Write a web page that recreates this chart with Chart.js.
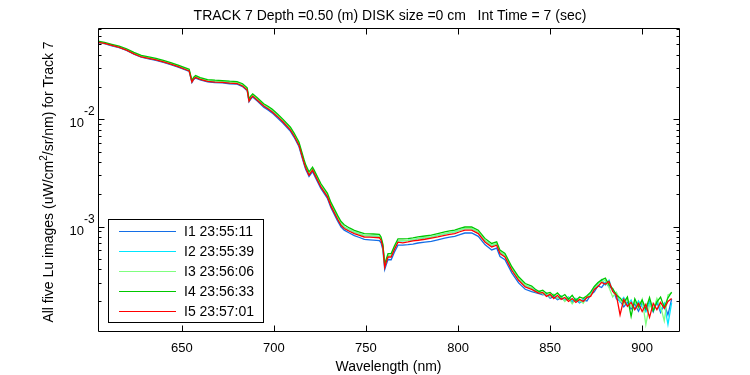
<!DOCTYPE html>
<html><head><meta charset="utf-8">
<script src="https://cdn.jsdelivr.net/npm/chart.js@4/dist/chart.umd.min.js"></script>
<style>html,body{margin:0;padding:0;background:#fff}canvas{display:block}</style>
</head><body>
<canvas id="c" width="750" height="375"></canvas>
<script>
const wavelengths = [
604.5,608,612,616,620,624,628,632,636,640,644,648,652,654,655.5,656.5,657.5,660,664,668,
672,676,680,683,685.5,686.5,687.5,688.5,691,694.5,697,699,
702,705,709,711,713.6,716.4,717.3,719.1,721,721.8,725.5,729.1,731,734.6,736.4,738.2,741,743.7,746.5,749.1,
752,754,757.3,758.2,759.2,760.2,761,762,763.7,765.5,767.4,770,772.8,775.5,778.3,782,785.5,789,792.8,795.5,
798.2,801,803.7,807.4,811,814.6,818.3,821,822.8,825.5,829.2,832.9,836.5,840,
842,844,846,848,850,852,854,856,858,860,862,864,866,868,870,872,874,876,878,880,
882,884,886,888,890,892,894,896,898,900,902,904,906,908,910,912,914,916
];
const i1 = [
5.20e-2,5.08e-2,4.85e-2,4.66e-2,4.40e-2,4.05e-2,3.80e-2,3.66e-2,3.56e-2,3.40e-2,3.24e-2,3.07e-2,2.89e-2,2.80e-2,2.21e-2,2.36e-2,2.43e-2,2.33e-2,2.24e-2,2.20e-2,
2.19e-2,2.15e-2,2.13e-2,2.02e-2,1.85e-2,1.46e-2,1.55e-2,1.62e-2,1.48e-2,1.30e-2,1.22e-2,1.15e-2,
1.03e-2,9.20e-3,7.72e-3,6.80e-3,5.58e-3,3.80e-3,3.41e-3,2.93e-3,3.25e-3,3.05e-3,2.27e-3,1.83e-3,1.50e-3,1.13e-3,9.95e-4,9.25e-4,8.70e-4,8.22e-4,7.90e-4,7.58e-4,
7.52e-4,7.48e-4,7.40e-4,7.05e-4,6.05e-4,3.98e-4,4.40e-4,4.92e-4,4.90e-4,5.78e-4,6.70e-4,6.72e-4,6.78e-4,6.86e-4,7.02e-4,7.15e-4,7.28e-4,7.52e-4,7.80e-4,7.96e-4,
8.10e-4,8.40e-4,8.70e-4,8.72e-4,8.10e-4,6.78e-4,6.05e-4,6.30e-4,5.25e-4,4.90e-4,3.70e-4,2.98e-4,2.60e-4,2.47e-4,
2.42e-4,2.36e-4,2.30e-4,2.34e-4,2.14e-4,2.22e-4,2.08e-4,2.16e-4,2.04e-4,2.12e-4,1.96e-4,2.08e-4,1.94e-4,2.06e-4,2.02e-4,2.30e-4,2.46e-4,2.80e-4,2.70e-4,3.02e-4,
2.74e-4,2.62e-4,2.12e-4,2.02e-4,1.78e-4,1.96e-4,1.70e-4,1.90e-4,1.62e-4,1.94e-4,1.66e-4,2.00e-4,1.60e-4,1.98e-4,1.58e-4,1.90e-4,1.50e-4,2.10e-4
];
const i2 = [
5.26e-2,5.14e-2,4.93e-2,4.72e-2,4.47e-2,4.12e-2,3.86e-2,3.73e-2,3.62e-2,3.46e-2,3.30e-2,3.13e-2,2.95e-2,2.86e-2,2.26e-2,2.41e-2,2.49e-2,2.39e-2,2.29e-2,2.26e-2,
2.24e-2,2.21e-2,2.19e-2,2.08e-2,1.91e-2,1.50e-2,1.60e-2,1.68e-2,1.54e-2,1.36e-2,1.28e-2,1.21e-2,
1.08e-2,9.65e-3,8.12e-3,7.15e-3,5.90e-3,4.02e-3,3.60e-3,3.10e-3,3.44e-3,3.24e-3,2.41e-3,1.95e-3,1.60e-3,1.21e-3,1.06e-3,9.88e-4,9.30e-4,8.85e-4,8.54e-4,8.22e-4,
8.20e-4,8.18e-4,8.10e-4,7.68e-4,6.60e-4,4.30e-4,4.78e-4,5.36e-4,5.36e-4,6.32e-4,7.35e-4,7.36e-4,7.42e-4,7.52e-4,7.70e-4,7.86e-4,7.98e-4,8.26e-4,8.56e-4,8.76e-4,
8.90e-4,9.25e-4,9.55e-4,9.56e-4,8.90e-4,7.42e-4,6.66e-4,6.90e-4,5.78e-4,5.38e-4,4.04e-4,3.25e-4,2.82e-4,2.66e-4,
2.52e-4,2.44e-4,2.38e-4,2.30e-4,2.24e-4,2.30e-4,2.16e-4,2.26e-4,2.06e-4,2.20e-4,2.02e-4,2.14e-4,1.96e-4,2.10e-4,2.16e-4,2.38e-4,2.66e-4,2.90e-4,3.20e-4,2.84e-4,
3.16e-4,2.50e-4,2.36e-4,1.98e-4,2.18e-4,1.86e-4,2.06e-4,1.70e-4,2.02e-4,1.78e-4,1.60e-4,1.96e-4,1.72e-4,2.04e-4,1.64e-4,1.92e-4,1.22e-4,1.95e-4
];
const i3 = [
5.27e-2,5.15e-2,4.94e-2,4.74e-2,4.48e-2,4.13e-2,3.87e-2,3.74e-2,3.63e-2,3.47e-2,3.31e-2,3.14e-2,2.96e-2,2.87e-2,2.27e-2,2.42e-2,2.50e-2,2.40e-2,2.30e-2,2.27e-2,
2.25e-2,2.22e-2,2.20e-2,2.09e-2,1.92e-2,1.51e-2,1.61e-2,1.69e-2,1.55e-2,1.37e-2,1.29e-2,1.22e-2,
1.09e-2,9.72e-3,8.18e-3,7.20e-3,5.94e-3,4.05e-3,3.63e-3,3.12e-3,3.46e-3,3.26e-3,2.42e-3,1.96e-3,1.61e-3,1.21e-3,1.07e-3,9.90e-4,9.33e-4,8.88e-4,8.56e-4,8.25e-4,
8.22e-4,8.20e-4,8.12e-4,7.70e-4,6.62e-4,4.32e-4,4.80e-4,5.38e-4,5.38e-4,6.35e-4,7.38e-4,7.38e-4,7.44e-4,7.55e-4,7.72e-4,7.88e-4,8.00e-4,8.28e-4,8.58e-4,8.78e-4,
8.92e-4,9.28e-4,9.58e-4,9.60e-4,8.92e-4,7.45e-4,6.68e-4,6.92e-4,5.80e-4,5.40e-4,4.06e-4,3.26e-4,2.83e-4,2.67e-4,
2.46e-4,2.50e-4,2.34e-4,2.40e-4,2.20e-4,2.34e-4,2.12e-4,2.24e-4,2.00e-4,2.16e-4,1.90e-4,2.10e-4,2.04e-4,1.92e-4,2.20e-4,2.32e-4,2.60e-4,2.96e-4,3.06e-4,3.14e-4,
2.70e-4,2.20e-4,2.44e-4,2.06e-4,1.88e-4,2.12e-4,1.78e-4,2.00e-4,1.72e-4,2.10e-4,1.22e-4,1.86e-4,1.66e-4,2.14e-4,1.80e-4,1.32e-4,2.30e-4,2.40e-4
];
const i4 = [
5.36e-2,5.24e-2,5.02e-2,4.82e-2,4.56e-2,4.22e-2,3.95e-2,3.82e-2,3.70e-2,3.55e-2,3.39e-2,3.21e-2,3.03e-2,2.94e-2,2.31e-2,2.47e-2,2.56e-2,2.45e-2,2.35e-2,2.32e-2,
2.30e-2,2.27e-2,2.25e-2,2.15e-2,1.97e-2,1.55e-2,1.66e-2,1.73e-2,1.59e-2,1.40e-2,1.32e-2,1.25e-2,
1.12e-2,1.00e-2,8.45e-3,7.45e-3,6.15e-3,4.20e-3,3.76e-3,3.24e-3,3.58e-3,3.38e-3,2.52e-3,2.04e-3,1.68e-3,1.27e-3,1.12e-3,1.04e-3,9.70e-4,9.22e-4,8.88e-4,8.58e-4,
8.55e-4,8.52e-4,8.45e-4,8.00e-4,6.85e-4,4.45e-4,4.96e-4,5.58e-4,5.60e-4,6.62e-4,7.68e-4,7.66e-4,7.72e-4,7.84e-4,8.00e-4,8.16e-4,8.30e-4,8.58e-4,8.90e-4,9.10e-4,
9.24e-4,9.60e-4,9.90e-4,9.92e-4,9.25e-4,7.75e-4,6.95e-4,7.20e-4,6.02e-4,5.62e-4,4.22e-4,3.40e-4,2.94e-4,2.78e-4,
2.60e-4,2.48e-4,2.54e-4,2.38e-4,2.42e-4,2.26e-4,2.40e-4,2.20e-4,2.32e-4,2.10e-4,2.28e-4,2.04e-4,2.20e-4,2.14e-4,2.26e-4,2.44e-4,2.76e-4,3.00e-4,3.18e-4,3.30e-4,
2.86e-4,2.64e-4,2.30e-4,2.16e-4,1.96e-4,2.20e-4,1.45e-4,2.12e-4,1.78e-4,2.06e-4,1.70e-4,2.18e-4,1.64e-4,1.98e-4,2.20e-4,1.76e-4,2.16e-4,2.44e-4
];
const i5 = [
5.22e-2,5.11e-2,4.89e-2,4.69e-2,4.43e-2,4.09e-2,3.82e-2,3.70e-2,3.59e-2,3.43e-2,3.27e-2,3.10e-2,2.92e-2,2.83e-2,2.23e-2,2.38e-2,2.46e-2,2.36e-2,2.26e-2,2.23e-2,
2.21e-2,2.18e-2,2.16e-2,2.05e-2,1.88e-2,1.48e-2,1.58e-2,1.65e-2,1.51e-2,1.33e-2,1.25e-2,1.18e-2,
1.06e-2,9.44e-3,7.94e-3,6.99e-3,5.75e-3,3.91e-3,3.51e-3,3.02e-3,3.36e-3,3.15e-3,2.34e-3,1.89e-3,1.55e-3,1.17e-3,1.03e-3,9.58e-4,9.04e-4,8.60e-4,8.29e-4,7.99e-4,
7.97e-4,7.94e-4,7.86e-4,7.45e-4,6.41e-4,4.17e-4,4.64e-4,5.20e-4,5.20e-4,6.14e-4,7.14e-4,7.05e-4,7.18e-4,7.36e-4,7.45e-4,7.61e-4,7.80e-4,7.99e-4,8.29e-4,8.47e-4,
8.60e-4,8.94e-4,9.24e-4,9.24e-4,8.60e-4,7.18e-4,6.45e-4,6.69e-4,5.59e-4,5.20e-4,3.91e-4,3.15e-4,2.73e-4,2.59e-4,
2.48e-4,2.38e-4,2.43e-4,2.23e-4,2.33e-4,2.13e-4,2.28e-4,2.09e-4,2.18e-4,2.00e-4,2.13e-4,1.96e-4,2.09e-4,2.00e-4,2.18e-4,2.23e-4,2.59e-4,2.76e-4,3.01e-4,2.89e-4,
3.08e-4,2.48e-4,2.28e-4,1.50e-4,2.09e-4,1.80e-4,1.96e-4,1.68e-4,1.92e-4,1.61e-4,1.88e-4,1.42e-4,1.92e-4,1.68e-4,1.96e-4,1.72e-4,2.00e-4,2.13e-4
];
const seriesLabels = ['I1 23:55:11','I2 23:55:39','I3 23:56:06','I4 23:56:33','I5 23:57:01'];
const xTicks = [650,700,750,800,850,900];
const yMajorTicks = [1e-3,1e-2];
const titleText = 'TRACK 7 Depth =0.50 (m) DISK size =0 cm   Int Time = 7 (sec)';
const xLabel = 'Wavelength (nm)';
const yLabelParts = ['All five Lu images (uW/cm','2','/sr/nm) for Track 7'];

const series = [i1,i2,i3,i4,i5];
const colors = ['rgb(20,110,230)','rgb(0,230,255)','rgb(128,255,128)','rgb(0,200,0)','rgb(255,0,0)'];
const FAM = '"Liberation Sans", Arial, sans-serif';

const decor = {
  id:'decor',
  afterDatasetsDraw(chart){
    const {ctx, chartArea:a, scales:{x,y}} = chart;
    ctx.save();
    ctx.strokeStyle='#000'; ctx.lineWidth=1; ctx.fillStyle='#000';
    const L=Math.round(a.left)+0.5, R=Math.round(a.right)+0.5, T=Math.round(a.top)+0.5, B=Math.round(a.bottom)+0.5;
    ctx.beginPath();
    ctx.rect(L,T,R-L,B-T);
    xTicks.forEach(v=>{
      const p=Math.round(x.getPixelForValue(v))+0.5;
      ctx.moveTo(p,B); ctx.lineTo(p,B-6);
      ctx.moveTo(p,T); ctx.lineTo(p,T+6);
    });
    for(let n=-5;n<=-1;n++){
      for(let k=1;k<=9;k++){
        const v=k*Math.pow(10,n);
        if(v<y.min||v>y.max) continue;
        const p=Math.round(y.getPixelForValue(v))+0.5;
        const len = k===1?6:3;
        ctx.moveTo(L,p); ctx.lineTo(L+len,p);
        ctx.moveTo(R,p); ctx.lineTo(R-len,p);
      }
    }
    ctx.stroke();
    // y tick labels
    yMajorTicks.forEach(v=>{
      const p=y.getPixelForValue(v);
      const ex=String(Math.round(Math.log10(v)));
      ctx.font='13px '+FAM; ctx.textAlign='right'; ctx.textBaseline='alphabetic';
      ctx.fillText('10',84,p+8);
      ctx.font='12px '+FAM; ctx.textAlign='left';
      ctx.fillText(ex,84,p-4);
    });
    // title
    ctx.font='14px '+FAM; ctx.textAlign='center'; ctx.textBaseline='alphabetic';
    ctx.fillText(titleText,390,20);
    // x label
    ctx.fillText(xLabel,(a.left+a.right)/2,371);
    // y label
    ctx.save();
    ctx.translate(53,182); ctx.rotate(-Math.PI/2);
    ctx.textAlign='left';
    ctx.font='14px '+FAM;
    const w0=ctx.measureText(yLabelParts[0]).width;
    const w2=ctx.measureText(yLabelParts[2]).width;
    ctx.font='10px '+FAM;
    const w1=ctx.measureText(yLabelParts[1]).width;
    let sx=-(w0+w1+w2)/2;
    ctx.font='14px '+FAM; ctx.fillText(yLabelParts[0],sx,0); sx+=w0;
    ctx.font='10px '+FAM; ctx.fillText(yLabelParts[1],sx,-6); sx+=w1;
    ctx.font='14px '+FAM; ctx.fillText(yLabelParts[2],sx,0);
    ctx.restore();
    // legend
    ctx.fillStyle='#fff';
    ctx.fillRect(108.5,219.5,155,103);
    ctx.strokeStyle='#000';
    ctx.strokeRect(108.5,219.5,155,103);
    ctx.font='14px '+FAM; ctx.textAlign='left'; ctx.textBaseline='middle';
    seriesLabels.forEach((lab,i)=>{
      const yy=231+20*i+0.5;
      ctx.strokeStyle=colors[i]; ctx.lineWidth=1;
      ctx.beginPath(); ctx.moveTo(119,yy); ctx.lineTo(176,yy); ctx.stroke();
      ctx.fillStyle='#000';
      ctx.fillText(lab,184,yy+1);
    });
    ctx.restore();
  }
};

new Chart(document.getElementById('c'),{
  type:'line',
  data:{datasets: series.map((s,i)=>({
    label: seriesLabels[i],
    data: wavelengths.map((w,j)=>({x:w,y:s[j]})),
    borderColor: colors[i], borderWidth:1.3, pointRadius:0, tension:0, fill:false, order:5-i
  }))},
  options:{
    responsive:false, animation:false, devicePixelRatio:1,
    layout:{padding:{left:0,right:71,top:28,bottom:0}},
    plugins:{legend:{display:false},title:{display:false},tooltip:{enabled:false}},
    scales:{
      x:{type:'linear',min:604.5,max:920,
        afterBuildTicks:s=>{s.ticks=xTicks.map(v=>({value:v}));},
        ticks:{font:{family:FAM,size:13},color:'#000',padding:10,maxRotation:0,autoSkip:false},
        grid:{display:false,drawTicks:false},border:{display:false},
        afterFit:s=>{s.height=44;}},
      y:{type:'logarithmic',min:1.06e-4,max:0.0712,
        ticks:{display:false},
        grid:{display:false,drawTicks:false},border:{display:false},
        afterFit:s=>{s.width=98;}}
    }
  },
  plugins:[decor]
});
</script>
</body></html>
